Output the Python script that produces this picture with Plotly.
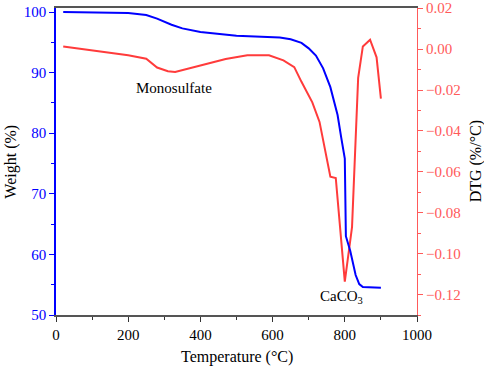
import plotly.graph_objects as go

# Weight (TG) curve
tg_temp = [20, 150, 200, 250, 280, 320, 350, 400, 500, 620, 650, 680, 700, 720, 740, 760, 780, 790, 800, 803, 815, 830, 840, 850, 900]
tg_weight = [100.0, 99.95, 99.85, 99.5, 98.9, 97.9, 97.3, 96.7, 96.1, 95.8, 95.5, 94.9, 94.0, 92.8, 90.7, 87.6, 83.0, 79.3, 75.8, 63.0, 60.6, 56.6, 55.1, 54.6, 54.5]

# DTG curve
dtg_temp = [20, 100, 200, 250, 280, 310, 330, 400, 470, 530, 590, 630, 660, 680, 710, 730, 745, 760, 775, 800, 820, 837, 850, 870, 888, 900]
dtg_value = [0.0013, -0.0005, -0.003, -0.0047, -0.009, -0.0108, -0.0112, -0.008, -0.0048, -0.003, -0.003, -0.0055, -0.0088, -0.016, -0.026, -0.0356, -0.049, -0.0624, -0.063, -0.1137, -0.087, -0.014, 0.0013, 0.0046, -0.004, -0.0242]

x_ticks = [0, 200, 400, 600, 800, 1000]
w_ticks = [50, 60, 70, 80, 90, 100]
d_ticks = [0.02, 0.00, -0.02, -0.04, -0.06, -0.08, -0.10, -0.12]

BLUE = "#0000FF"
RED = "#FF3B3B"
AXRED = "#FF5A5A"
FONT = "Liberation Serif"
FS = 15
FT = 16

fig = go.Figure()
fig.add_trace(go.Scatter(x=dtg_temp, y=dtg_value, mode="lines",
                         line=dict(color=RED, width=2), yaxis="y", showlegend=False))
fig.add_trace(go.Scatter(x=tg_temp, y=tg_weight, mode="lines",
                         line=dict(color=BLUE, width=2), yaxis="y2", showlegend=False))

fig.update_layout(
    width=484, height=366,
    margin=dict(l=56, r=67, t=8, b=51),
    plot_bgcolor="white", paper_bgcolor="white",
    font=dict(family=FONT, size=FS, color="black"),
    xaxis=dict(range=[0, 1000], tickvals=x_ticks, ticks="outside", ticklen=5,
               tickcolor="#333", showline=True, linecolor="#555", linewidth=1.5,
               mirror=True, showgrid=False, zeroline=False, automargin=False,
               ticklabeloverflow="allow",
               minor=dict(dtick=100, ticks="outside", ticklen=3, tickcolor="#333"),
               tickfont=dict(family=FONT, size=FS, color="black")),
    yaxis=dict(range=[-0.13, 0.0201], side="right", tickvals=d_ticks,
               ticktext=[f"{v:.2f}".replace("-", "\u2212") for v in d_ticks],
               ticks="outside", ticklen=5, tickcolor=AXRED,
               showline=True, linecolor=AXRED, linewidth=1.2,
               showgrid=False, zeroline=False, automargin=False,
               ticklabeloverflow="allow",
               minor=dict(dtick=0.01, ticks="outside", ticklen=3, tickcolor=AXRED),
               tickfont=dict(family=FONT, size=FS, color=AXRED)),
    yaxis2=dict(range=[50, 100.66], side="left", overlaying="y", tickvals=w_ticks,
                ticks="outside", ticklen=5, tickcolor=BLUE,
                showline=True, linecolor=BLUE, linewidth=1.5,
                showgrid=False, zeroline=False, automargin=False,
                ticklabeloverflow="allow",
                minor=dict(dtick=5, ticks="outside", ticklen=3, tickcolor=BLUE),
                tickfont=dict(family=FONT, size=FS, color=BLUE)),
)

# axis titles
fig.add_annotation(x=0.5, y=-0.136, xref="paper", yref="paper", text="Temperature (°C)",
                   showarrow=False, xanchor="center", yanchor="middle",
                   font=dict(family=FONT, size=FT, color="black"))
fig.add_annotation(x=-0.127, y=0.5, xref="paper", yref="paper", text="Weight (%)",
                   showarrow=False, textangle=-90, xanchor="center", yanchor="middle",
                   font=dict(family=FONT, size=FT, color="black"))
fig.add_annotation(x=1.163, y=0.5, xref="paper", yref="paper", text="DTG (%/°C)",
                   showarrow=False, textangle=-90, xanchor="center", yanchor="middle",
                   font=dict(family=FONT, size=FT, color="black"))

fig.add_annotation(x=327, y=87.5, xref="x", yref="y2", text="Monosulfate",
                   showarrow=False, font=dict(family=FONT, size=FS, color="black"))
fig.add_annotation(x=792, y=53.0, xref="x", yref="y2", text="CaCO<sub>3</sub>",
                   showarrow=False, font=dict(family=FONT, size=FS, color="black"))

fig.write_html("out.html", config={"displayModeBar": False},
               post_script="document.body.style.margin='0';document.body.style.overflow='hidden';")
